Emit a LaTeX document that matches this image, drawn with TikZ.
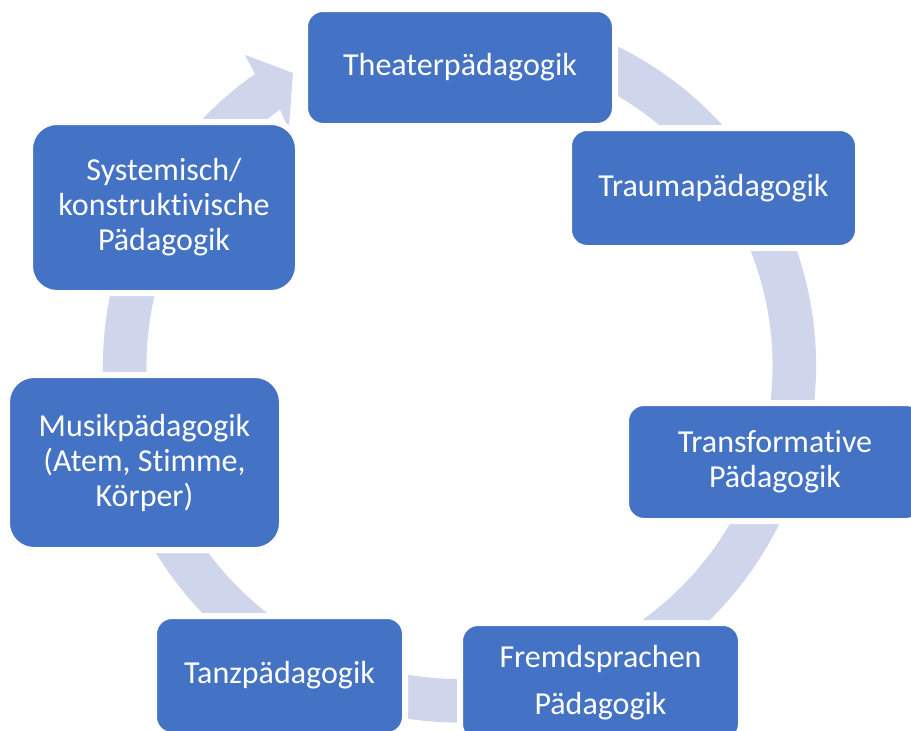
\documentclass[tikz,border=0pt]{standalone}
\usepackage{fontspec}
\setmainfont{Carlito}[Ligatures=NoCommon]
\usepackage{tikz}
\usepackage{xcolor}
\definecolor{boxblue}{HTML}{4472C4}
\definecolor{ringblue}{HTML}{CFD5EA}
\tikzset{
    stage/.style={rectangle, rounded corners=18pt, fill=boxblue, draw=white, line width=6pt,
        text=white, align=center, inner sep=0pt, font=\fontsize{32}{35}\selectfont},
    cyclearrow/.style={fill=ringblue}
}

\begin{document}
\begin{tikzpicture}[x=1pt, y=-1pt]
        \useasboundingbox (0,0) rectangle (911,731);
        \clip (0,0) rectangle (911,731);

        \coordinate (ringc) at (459.5,366);
        \begin{scope}[shift={(ringc)}]
            \fill[cyclearrow] (-75:356.5) arc[start angle=-75, end angle=235, radius=356.5]
                -- (235.4:378) -- (240.4:337) -- (234.2:292) -- (235:313)
                arc[start angle=235, end angle=-75, radius=313] -- cycle;
        \end{scope}

        \node[stage, minimum width=310pt, minimum height=117pt] (thea) at (460,67.5) {Theaterpädagogik};
        \node[stage, minimum width=289pt, minimum height=120pt] (trau) at (713.5,188) {Traumapädagogik};
        \node[stage, minimum width=298pt, minimum height=118pt] (trans) at (775,462) {Transformative\\Pädagogik};
        \node[stage, minimum width=281pt, minimum height=119pt] (frem) at (600.5,682.5) {Fremdsprachen\\[12pt]Pädagogik};
        \node[stage, minimum width=251pt, minimum height=119pt] (tanz) at (279.5,675.5) {Tanzpädagogik};
        \node[stage, rounded corners=27pt, minimum width=275pt, minimum height=175pt] (musik) at (144.5,462.5) {Musikpädagogik\\(Atem, Stimme,\\Körper)};
        \node[stage, rounded corners=27pt, minimum width=268pt, minimum height=171pt] (sys) at (164,207.5) {Systemisch/\\konstruktivische\\Pädagogik};
    \end{tikzpicture}
\end{document}
